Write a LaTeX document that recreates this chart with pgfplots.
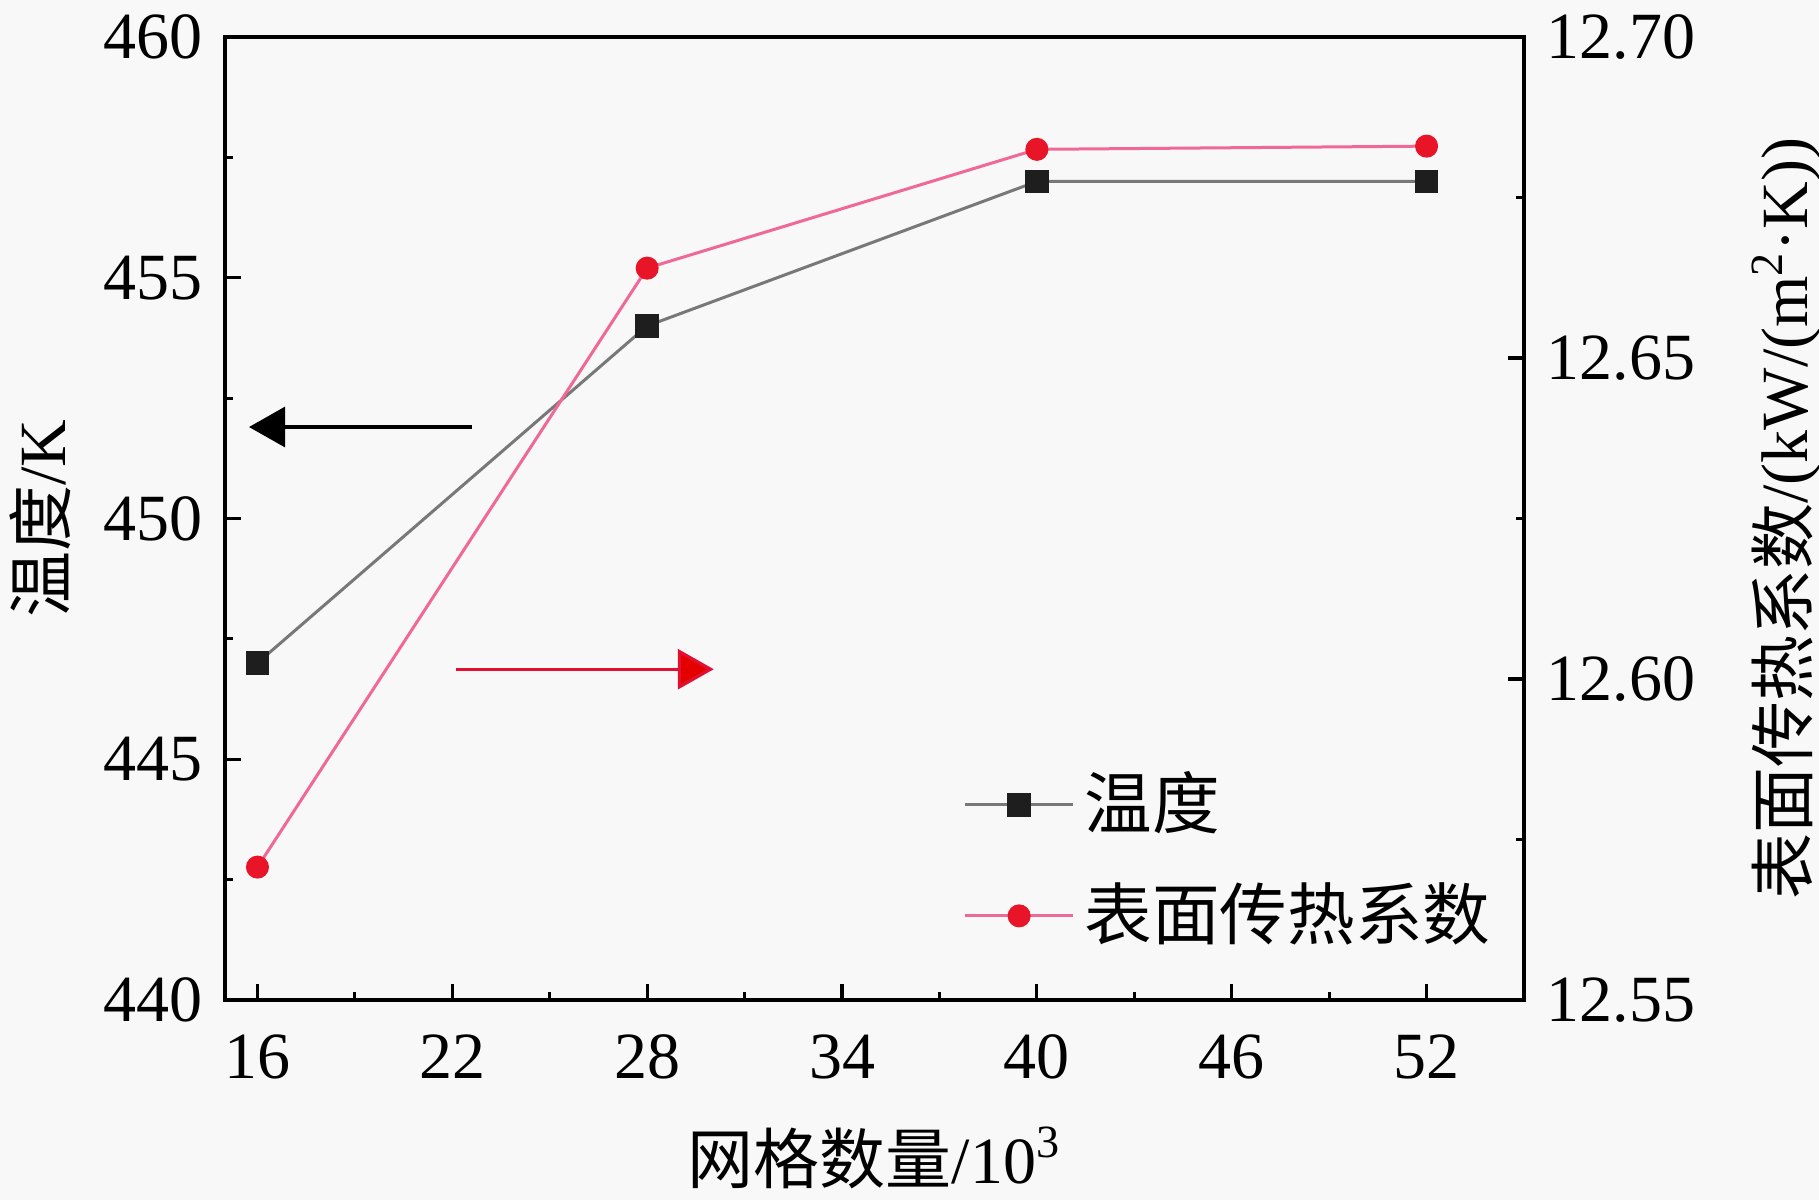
\documentclass[border=0pt]{standalone}
\usepackage{fontspec}
\setmainfont{Liberation Serif}
\newfontfamily\cjk{Noto Sans CJK SC}
\usepackage{pgfplots}
\pgfplotsset{compat=1.18}
\usetikzlibrary{arrows.meta}

\definecolor{bg}{RGB}{248,248,248}
\definecolor{grayline}{RGB}{120,120,120}
\definecolor{sqmark}{RGB}{30,30,30}
\definecolor{pinkline}{RGB}{240,105,150}
\definecolor{redmark}{RGB}{232,20,40}
\definecolor{redarrow}{RGB}{225,15,50}

\pgfplotsset{
  common/.style={
    scale only axis, width=324.75pt, height=240.75pt,
    at={(0pt,0pt)}, anchor=south west,
    xmin=15, xmax=55,
    tick align=inside,
    major tick length=4pt, minor tick length=2pt,
    axis line style={line width=0.9pt},
    every tick/.style={line width=0.8pt, black},
    /pgf/number format/assume math mode=true,
    clip=false,
  }
}

\begin{document}
\fontsize{16.5}{20}\selectfont
\begin{tikzpicture}
\path[use as bounding box, fill=bg] (-56.25pt,-50pt) rectangle (398.5pt,250pt);

\begin{axis}[common,
  ymin=440, ymax=460,
  xtick={16,22,28,34,40,46,52}, minor x tick num=1,
  ytick={440,445,450,455,460}, minor y tick num=1,
  xtick pos=left, ytick pos=left,
  xticklabel style={yshift=-3pt},
  xlabel={{\cjk 网格数量}/10\textsuperscript{3}},
  ylabel={{\cjk 温度}/K},
  xlabel style={at={(axis description cs:0.5,-0.164)}, anchor=center},
  ylabel style={at={(axis description cs:-0.1424,0.5)}, anchor=center},
]
\addplot[color=grayline, line width=0.75pt, mark=square*, mark size=2.6pt,
  mark options={fill=sqmark, draw=sqmark}]
  coordinates {(16,447) (28,454) (40,457) (52,457)};
\draw[black, line width=0.8pt, -{Triangle[length=9pt,width=10pt]}]
  (axis cs:22.6,451.9) -- (axis cs:15.74,451.9);
\draw[redarrow, line width=0.8pt, -{Triangle[length=9pt,width=10pt,fill=red!90!black]}]
  (axis cs:22.11,446.87) -- (axis cs:30.05,446.87);
\end{axis}

\begin{axis}[common,
  ymin=12.55, ymax=12.70,
  axis x line=none, axis y line*=right,
  ytick={12.55,12.60,12.65,12.70}, minor y tick num=1,
  yticklabel style={/pgf/number format/fixed, /pgf/number format/fixed zerofill,
    /pgf/number format/precision=2},
  ylabel={{\cjk 表面传热系数}/(kW/(m\textsuperscript{2}·K))},
  ylabel style={at={(axis description cs:1.2025,0.5)}, anchor=center},
  legend style={draw=none, fill=none, at={(axis description cs:0.568,0.145)},
    anchor=west, row sep=6pt, inner sep=0pt, nodes={inner sep=2.5pt},
    font=\fontsize{16.9}{20}\selectfont},
  legend cell align=left,
  legend image code/.code={\draw[#1, mark repeat=2, mark phase=2]
    plot coordinates {(0pt,0pt) (13.5pt,0pt) (27pt,0pt)};},
]
\addlegendimage{color=grayline, line width=0.75pt, mark=square*, mark size=2.6pt,
  mark options={fill=sqmark, draw=sqmark}}
\addlegendentry{\cjk 温度}
\addplot[color=pinkline, line width=0.75pt, mark=*, mark size=2.5pt,
  mark options={fill=redmark, draw=redmark}]
  coordinates {(16,12.5707) (28,12.664) (40,12.6825) (52,12.683)};
\addlegendentry{\cjk 表面传热系数}
\end{axis}
\end{tikzpicture}
\end{document}
